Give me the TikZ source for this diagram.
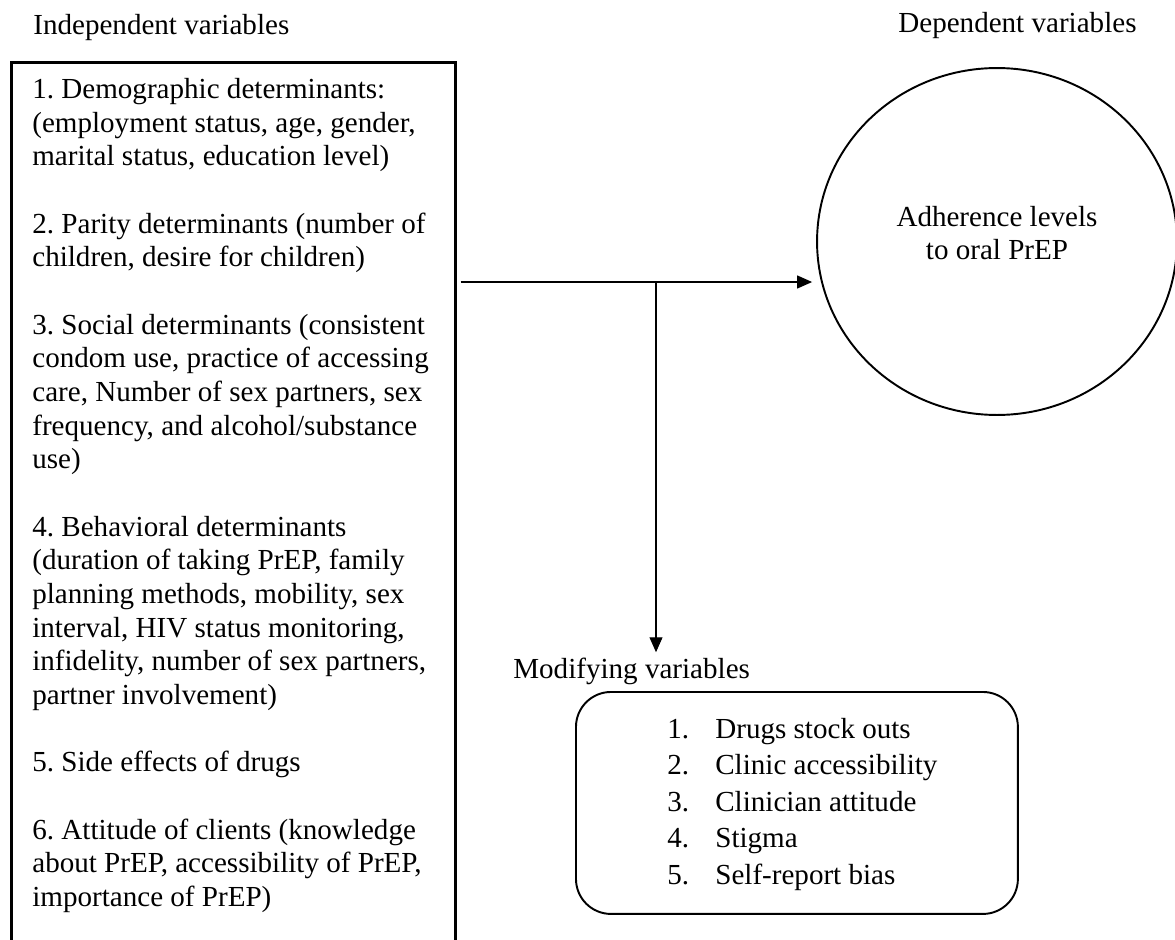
\documentclass[tikz,border=0pt]{standalone}
\usepackage{fontspec}
\setmainfont{Liberation Serif}
\frenchspacing
\usepackage{tikz}
\usetikzlibrary{arrows.meta,shapes.geometric,positioning}

\begin{document}
\begin{tikzpicture}[x=0.02cm,y=-0.02cm]
          \tikzset{every node/.style={font=\fontsize{16.55}{19.16}\selectfont, inner sep=0pt},
            VarBox/.style={draw, line width=1.1pt, inner sep=0pt},
            FlowLine/.style={line width=0.6pt, -{Triangle[length=8.5pt,width=7.4pt]}}};
          \useasboundingbox (0,0) rectangle (1175,939);
          \clip (0,0) rectangle (1175,939);
          \node[anchor=base west] (indephead) at (33,35) {Independent variables};
          \node[anchor=base west] (dephead) at (898,33) {Dependent variables};

          % independent variables
          \node[VarBox, line width=1.5pt, anchor=north west, minimum width=8.88cm, minimum height=19cm] (indep) at (10,61) {};
          \node[anchor=north west, align=left] (indeptext) at (32,78) {1. Demographic determinants:\\
            (employment status, age, gender,\\
            marital status, education level)\\[\baselineskip]
            2. Parity determinants (number of\\
            children, desire for children)\\[\baselineskip]
            3. Social determinants (consistent\\
            condom use, practice of accessing\\
            care, Number of sex partners, sex\\
            frequency, and alcohol/substance\\
            use)\\[\baselineskip]
            4. Behavioral determinants\\
            (duration of taking PrEP, family\\
            planning methods, mobility, sex\\
            interval, HIV status monitoring,\\
            infidelity, number of sex partners,\\
            partner involvement)\\[\baselineskip]
            5. Side effects of drugs\\[\baselineskip]
            6. Attitude of clients (knowledge\\
            about PrEP, accessibility of PrEP,\\
            importance of PrEP)};

          % dependent variable
          \node[VarBox, ellipse, minimum width=7.2cm, minimum height=6.94cm] (adher) at (997,241.5) {};
          \node[align=center] (adhertext) at (997,233) {Adherence levels\\to oral PrEP};

          % modifying variables
          \node[anchor=base west] (modhead) at (513,678) {Modifying variables};
          \node[VarBox, rounded corners=0.7cm, anchor=north west, minimum width=8.84cm, minimum height=4.44cm] (modif) at (575,691) {};
          \node[anchor=north west, align=left, font=\fontsize{16.55}{20.75}\selectfont] (modlist) at (667,718) {%
            \makebox[0.96cm][l]{1.}Drugs stock outs\\
            \makebox[0.96cm][l]{2.}Clinic accessibility\\
            \makebox[0.96cm][l]{3.}Clinician attitude\\
            \makebox[0.96cm][l]{4.}Stigma\\
            \makebox[0.96cm][l]{5.}Self-report bias};

          % arrows
          \coordinate (split) at (656,282);
          \coordinate (boxexit) at ([xshift=0.08cm]indep.east);
          \coordinate (adherin) at ([xshift=-0.08cm]adher.west);
          \coordinate (modtop) at ([yshift=0.1cm]modhead.north);
          \draw[FlowLine] (boxexit |- split) -- (adherin |- split);
          \draw[FlowLine] (split) -- (split |- modtop);
        \end{tikzpicture}
\end{document}
